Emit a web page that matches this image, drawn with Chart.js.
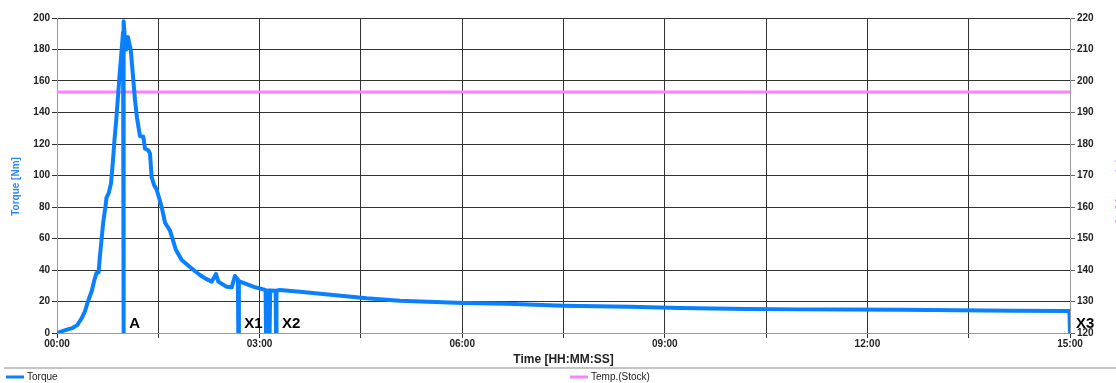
<!DOCTYPE html>
<html>
<head>
<meta charset="utf-8">
<script src="https://cdn.jsdelivr.net/npm/chart.js@4/dist/chart.umd.min.js"></script>
<style>
  html, body { margin: 0; padding: 0; background: #fff; overflow: hidden; }
  #wrap { position: relative; width: 1116px; height: 383px; }
</style>
</head>
<body>
<div id="wrap"><canvas id="c" width="1116" height="383"></canvas></div>
<script>
// Torque trace: time in seconds, torque in Nm
const torqueTimes = [
  0, 6, 14, 18, 22, 25, 27, 29, 31, 33, 35, 37, 38, 39, 41, 43, 44, 46, 48, 50, 51, 52.6, 55.5, 58.7,
  58.9, 59.2, 59.5, 60.5, 61.5, 63, 64.5, 65.5, 69.3, 71, 73.7, 76.7, 78.2, 81.1, 82.6, 84.1, 86.2,
  88.6, 93, 96, 100.4, 103, 105.5, 110.8, 119.7, 127, 132, 137.4, 141.3, 143.3, 150.7, 155.2, 158.1,
  160.7, 161.1, 161.6, 162.6, 174.4, 183.3, 185.3, 185.7, 186.6, 187.3, 188.5, 188.9, 189.4, 194.2,
  194.6, 195.0, 198, 215.9, 245.5, 275, 304.7, 361, 400, 450, 509, 554, 613, 660, 700, 750, 800, 850,
  899.5, 900
];
const torqueValues = [
  0, 1.5, 3.3, 5, 9.5, 14, 19, 23, 27, 33, 38, 38.5, 48, 55, 70, 80, 86, 89, 95, 112, 122, 135, 163, 191,
  0, 196, 198, 185, 180, 188, 183, 180, 148, 137, 125, 124.6, 117, 116, 114, 99, 94,
  91, 80, 70, 65, 59, 53, 46.3, 41, 36.8, 34.5, 32.6, 37.5, 32.6, 29.4, 29, 36.2,
  34, 0, 33, 32.6, 29.4, 27.7, 27.2, 0, 22, 27, 27, 0, 27, 26.8,
  0, 26.8, 27.3, 26.2, 24.1, 22, 20.5, 19, 18.5, 17.3, 16.6, 15.8, 15.2, 15, 15, 14.8, 14.4, 14.2,
  14, 0
];

// Stock temperature (°C), right axis
const tempTimes = [0, 900];
const tempValues = [196.5, 196.5];

// Axis ranges and steps
const torqueRange = [0, 200, 20];
const tempRange = [120, 220, 10];
const timeRange = [0, 900, 90];
const timeLabelStep = 180;

// Event markers on the time axis
const markerNames = ['A', 'X1', 'X2', 'X3'];
const markerTimes = [58.9, 161.1, 194.6, 900];

const seriesNames = ['Torque', 'Temp.(Stock)'];
const axisTitles = { x: 'Time [HH:MM:SS]', y: 'Torque [Nm]', y2: 'Temp.(Stock) [°C]' };

const BLUE = '#0a80ff';
const PINK = '#ff80ff';
const FONT = '"Liberation Sans", Arial, sans-serif';

const torquePoints = torqueTimes.map((t, i) => ({ x: t, y: torqueValues[i] }));
const tempPoints = tempTimes.map((t, i) => ({ x: t, y: tempValues[i] }));

function fmtTime(v) {
  const m = Math.floor(v / 60), s = Math.round(v % 60);
  return String(m).padStart(2, '0') + ':' + String(s).padStart(2, '0');
}

// Marker captions, axis side titles and the bottom legend strip
const decorations = {
  id: 'decorations',
  afterDatasetsDraw(chart) {
    const { ctx, scales } = chart;
    ctx.save();
    ctx.fillStyle = '#000';
    ctx.font = 'bold 15px ' + FONT;
    ctx.textBaseline = 'middle';
    ctx.textAlign = 'left';
    const y0 = scales.y.getPixelForValue(0);
    markerNames.forEach((name, i) => {
      const px = scales.x.getPixelForValue(markerTimes[i]);
      ctx.fillText(name, px + 6, y0 - 9);
    });
    ctx.restore();
  },
  afterDraw(chart) {
    const { ctx, chartArea } = chart;
    const midY = (chartArea.top + chartArea.bottom) / 2;
    ctx.save();
    // left axis title
    ctx.translate(16, midY + 11);
    ctx.rotate(-Math.PI / 2);
    ctx.font = 'bold 10px ' + FONT;
    ctx.fillStyle = '#2a8af5';
    ctx.textAlign = 'center';
    ctx.textBaseline = 'middle';
    ctx.fillText(axisTitles.y, 0, 0);
    ctx.restore();

    ctx.save();
    // right axis title, running past the edge
    ctx.translate(1119.5, midY + 6);
    ctx.rotate(Math.PI / 2);
    ctx.font = 'bold 10px ' + FONT;
    ctx.fillStyle = PINK;
    ctx.textAlign = 'center';
    ctx.textBaseline = 'middle';
    ctx.fillText(axisTitles.y2, 0, 0);
    ctx.restore();

    // legend strip
    ctx.save();
    ctx.strokeStyle = '#c4c4c4';
    ctx.lineWidth = 2;
    ctx.beginPath();
    ctx.moveTo(4, 368);
    ctx.lineTo(1116, 368);
    ctx.stroke();
    const items = [
      { x: 6, color: BLUE, label: seriesNames[0] },
      { x: 570, color: PINK, label: seriesNames[1] }
    ];
    ctx.font = '10px ' + FONT;
    ctx.textBaseline = 'middle';
    ctx.textAlign = 'left';
    items.forEach(it => {
      ctx.strokeStyle = it.color;
      ctx.lineWidth = 3;
      ctx.beginPath();
      ctx.moveTo(it.x, 377);
      ctx.lineTo(it.x + 18, 377);
      ctx.stroke();
      ctx.fillStyle = '#222';
      ctx.fillText(it.label, it.x + 21, 377.5);
    });
    ctx.restore();
  }
};

new Chart(document.getElementById('c'), {
  type: 'line',
  data: {
    datasets: [
      {
        label: seriesNames[0],
        data: torquePoints,
        yAxisID: 'y',
        borderColor: BLUE,
        backgroundColor: BLUE,
        borderWidth: 4,
        pointRadius: 0,
        tension: 0,
        borderJoinStyle: 'round',
        borderCapStyle: 'butt'
      },
      {
        label: seriesNames[1],
        data: tempPoints,
        yAxisID: 'y2',
        borderColor: PINK,
        backgroundColor: PINK,
        borderWidth: 3,
        pointRadius: 0,
        tension: 0
      }
    ]
  },
  options: {
    responsive: false,
    animation: false,
    devicePixelRatio: 1,
    layout: { padding: { top: 18, left: 0, right: 0, bottom: 0 } },
    plugins: { legend: { display: false }, tooltip: { enabled: false } },
    scales: {
      x: {
        type: 'linear',
        position: 'bottom',
        min: timeRange[0],
        max: timeRange[1],
        afterFit: s => { s.height = 50; },
        ticks: {
          stepSize: timeRange[2],
          autoSkip: false,
          maxRotation: 0,
          padding: 0,
          color: '#222',
          font: { family: FONT, size: 10, weight: 'bold' },
          callback: v => (v % timeLabelStep === 0 ? fmtTime(v) : '')
        },
        grid: { color: '#333', lineWidth: 1, tickLength: 5 },
        border: { color: '#999', width: 1 },
        title: {
          display: true,
          text: axisTitles.x,
          color: '#222',
          font: { family: FONT, size: 12, weight: 'bold' },
          padding: { top: 0, bottom: 16 }
        }
      },
      y: {
        position: 'left',
        min: torqueRange[0],
        max: torqueRange[1],
        afterFit: s => { s.width = 57; },
        ticks: {
          stepSize: torqueRange[2],
          padding: 2,
          color: '#222',
          font: { family: FONT, size: 10, weight: 'bold' }
        },
        grid: { color: '#333', lineWidth: 1, tickLength: 5 },
        border: { color: '#999', width: 1 }
      },
      y2: {
        position: 'right',
        min: tempRange[0],
        max: tempRange[1],
        afterFit: s => { s.width = 46; },
        ticks: {
          stepSize: tempRange[2],
          padding: 2,
          color: '#222',
          font: { family: FONT, size: 10, weight: 'bold' }
        },
        grid: { drawOnChartArea: false, color: '#666', tickLength: 5 },
        border: { color: '#999', width: 1 }
      }
    }
  },
  plugins: [decorations]
});
</script>
</body>
</html>
